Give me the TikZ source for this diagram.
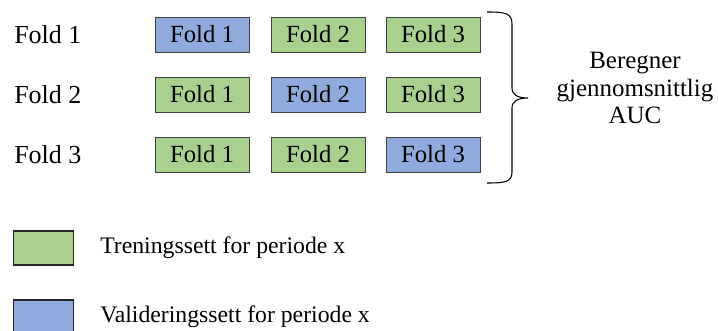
\documentclass[tikz,border=0pt]{standalone}
\usepackage{fontspec}
\setmainfont{Liberation Serif}
\definecolor{trainc}{HTML}{A9D18E}
\definecolor{validc}{HTML}{8FAADC}
\begin{document}
\begin{tikzpicture}[x=0.75pt,y=-0.75pt,
  every node/.style={font=\fontsize{18.5}{20.25}\selectfont},
  fold/.style={draw=black!75,line width=0.6pt,minimum width=70.5pt,minimum height=26.25pt,inner sep=0pt},
  train/.style={fold,fill=trainc},
  valid/.style={fold,fill=validc},
  key/.style={draw=black!85,line width=1.4pt,minimum width=45pt,minimum height=25pt,inner sep=0pt},
  caption/.style={anchor=west,inner sep=0pt}]
\clip (0,0) rectangle (718,331);
\foreach \r in {1,2,3}{
  \pgfmathsetmacro\y{34.5+60*(\r-1)}
  \node[caption,font=\fontsize{19.5}{22}\selectfont] (row\r) at (14,\y) {Fold \r};
  \foreach \c/\x in {1/202,2/318,3/433}{
    \ifnum\r=\c \def\kind{valid}\else\def\kind{train}\fi
    \node[\kind] (f\r\c) at (\x,\y) {Fold \c};
  }
}
% brace
\draw[line width=0.8pt] (487,12) .. controls (505,12) and (512,13) .. (512,24)
  -- (512,88) .. controls (512,95) and (518,98) .. (528,98)
  .. controls (518,98) and (512,101) .. (512,108)
  -- (512,172) .. controls (512,182) and (505,183) .. (487,183);
\node[align=center,font=\fontsize{18.7}{20.5}\selectfont] (avg) at (635,88) {Beregner\\gjennomsnittlig\\AUC};
% legend
\node[key,fill=trainc] (ktrain) at (43.5,248) {};
\node[caption,font=\fontsize{17.8}{20}\selectfont] (ttrain) at (100,248) {Treningssett for periode x};
\node[key,fill=validc] (kvalid) at (43.5,317) {};
\node[caption,font=\fontsize{17.8}{20}\selectfont] (tvalid) at (100,317) {Valideringssett for periode x};
\end{tikzpicture}
\end{document}
